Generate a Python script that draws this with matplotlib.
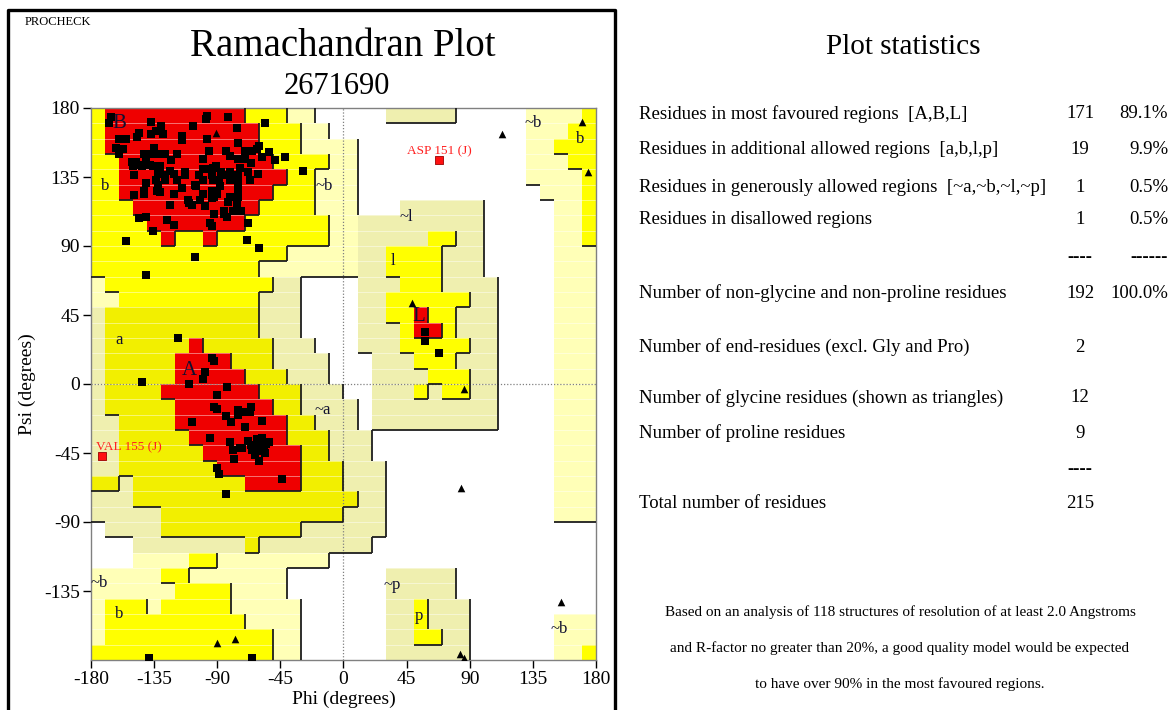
import matplotlib
matplotlib.use("Agg")
import matplotlib.pyplot as plt
import numpy as np
from matplotlib.lines import Line2D
from matplotlib.collections import LineCollection

plt.rcParams['font.family'] = ['Liberation Serif', 'DejaVu Serif']
plt.rcParams['axes.unicode_minus'] = False

# ---------------- data ----------------
# Region map, 10-degree cells; row 0 = psi 170..180, column 0 = phi -180..-170
# R core, Y/y allowed, C/c generous, . disallowed
region_rows = [
    "Y" + "R"*10 + "Y"*3 + "C"*2 + "."*5 + "c"*5 + "."*5 + "C"*4 + "Y",
    "Y" + "R"*11 + "Y"*3 + "C"*2 + "."*14 + "C"*3 + "Y"*2,
    "Y" + "R"*11 + "Y"*3 + "C"*4 + "."*12 + "C"*2 + "Y"*3,
    "YY" + "R"*11 + "Y"*4 + "C"*2 + "."*12 + "C"*3 + "Y"*2,
    "YY" + "R"*12 + "Y"*2 + "C"*3 + "."*12 + "C"*4 + "Y",
    "YY" + "R"*11 + "Y"*3 + "C"*3 + "."*13 + "C"*3 + "Y",
    "YYY" + "R"*9 + "Y"*4 + "C"*3 + "."*3 + "c"*6 + "."*5 + "C"*2 + "Y",
    "Y"*4 + "R"*7 + "Y"*6 + "C"*2 + "c"*9 + "."*5 + "C"*2 + "Y",
    "Y"*5 + "R" + "YY" + "R" + "Y"*8 + "CC" + "c"*5 + "YY" + "cc" + "."*5 + "CC" + "Y",
    "Y"*14 + "C"*5 + "cc" + "Y"*4 + "ccc" + "."*5 + "CCC",
    "Y"*12 + "C"*7 + "cc" + "Y"*4 + "ccc" + "."*5 + "CCC",
    "C" + "Y"*12 + "cc" + "."*4 + "ccc" + "YYY" + "cccc" + "."*4 + "CCC",
    "CC" + "Y"*10 + "ccc" + "."*4 + "cc" + "Y"*6 + "cc" + "."*4 + "CCC",
    "c" + "y"*11 + "ccc" + "."*4 + "cc" + "YY" + "R" + "YY" + "ccc" + "."*4 + "CCC",
    "c" + "y"*11 + "ccc" + "."*4 + "ccc" + "Y" + "RR" + "Y" + "ccc" + "."*4 + "CCC",
    "c" + "y"*6 + "R" + "y"*5 + "ccc" + "..." + "ccc" + "Y"*5 + "cc" + "."*4 + "CCC",
    "c" + "y"*5 + "R"*4 + "yyy" + "cccc" + "..." + "ccc" + "YYY" + "ccc" + "."*4 + "CCC",
    "c" + "y"*5 + "R"*5 + "yyy" + "ccc" + "..." + "cccc" + "YYY" + "cc" + "."*4 + "CCC",
    "c" + "y"*4 + "R"*7 + "yyy" + "ccc" + ".." + "ccc" + "Y" + "c" + "YY" + "cc" + "."*4 + "CCC",
    "c" + "y"*5 + "R"*7 + "yy" + "cccc" + "." + "c"*9 + "."*4 + "CCC",
    "cc" + "y"*4 + "R"*8 + "yy" + "ccc" + "." + "c"*9 + "."*4 + "CCC",
    "cc" + "y"*5 + "R"*7 + "yyy" + "ccc" + "."*13 + "CCC",
    "cc" + "y"*6 + "R"*7 + "yy" + "ccc" + "."*13 + "CCC",
    "cc" + "y"*7 + "R"*6 + "yyy" + "ccc" + "."*12 + "CCC",
    "yy" + "c" + "y"*8 + "R"*4 + "yyy" + "ccc" + "."*12 + "CCC",
    "ccc" + "y"*16 + "cc" + "."*12 + "CCC",
    "c"*5 + "y"*13 + "ccc" + "."*12 + "CCC",
    "." + "c"*4 + "y"*10 + "c"*6 + "."*15,
    "..." + "c"*8 + "y" + "c"*8 + "."*16,
    "..." + "C"*4 + "YY" + "C"*8 + "."*19,
    "C"*5 + "YY" + "C"*7 + "."*7 + "c"*5 + "."*10,
    "C"*6 + "Y"*4 + "C"*4 + "."*7 + "c"*5 + "."*10,
    "C" + "YYY" + "C" + "Y"*5 + "C"*5 + "."*6 + "cc" + "Y" + "ccc" + "."*9,
    "C" + "Y"*10 + "C"*4 + "."*6 + "cc" + "Y" + "ccc" + "."*6 + "CCC",
    "C" + "Y"*12 + "CC" + "."*6 + "cc" + "YY" + "cc" + "."*6 + "CCC",
    "Y"*13 + "CC" + "."*6 + "c"*6 + "."*6 + "CC" + "Y",
]

# non-glycine residues (squares)
sq_phi = [-166, -167, -137, -130, -134, -129, -146, -147, -160, -155, -137, -115, -115, -107, -97, -98,
          -82, -76, -97, -75, -96, -100, -70, -65, -62, -60, -58, -53, -49, -42, -29, -56, -84, -81,
          -75, -70, -66, -61, -68, -67, -74, -81, -75, -75, -81, -87, -86, -91, -93, -98, -100, -103,
          -106, -105, -100, -94, -93, -89, -88, -94, -93, -94, -92, -90, -100, -102, -99, -110, -108,
          -115, -113, -113, -119, -121, -124, -127, -127, -132, -134, -132, -136, -138, -131, -131,
          -127, -123, -132, -135, -138, -142, -141, -146, -144, -148, -151, -150, -149, -141, -142,
          -142, -149, -133, -131, -121, -124, -111, -119, -157, -160, -162, -146, -141, -136, -126,
          -121, -155, -106, -141, -69, -60, -68, -85, -85, -83, -92, -95, -94, -75, -76, -73, -81,
          -75, -82, -79,
          -118, -144, -94, -92, -99, -100, -110, -83, -90, -92, -90, -75, -70, -66, -67, -84, -80,
          -108, -70, -58, -95, -81, -79, -78, -74, -72, -68, -66, -65, -64, -60, -58, -53, -60, -56,
          -60, -90, -89, -44, -84, -62, -61, -57, -55, -63, -75,
          -139, -65, 58, 58, 68]
sq_psi = [174, 170, 171, 168, 165, 163, 164, 161, 160, 160, 163, 162, 159, 168, 175, 173,
          174, 167, 160, 157, 152, 147, 152, 152, 153, 155, 148, 151, 146, 148, 139, 170, 152, 149,
          147, 147, 144, 137, 138, 133, 141, 138, 136, 132, 133, 138, 136, 142, 141, 140, 140, 136,
          130, 129, 133, 136, 133, 133, 129, 126, 123, 121, 122, 124, 124, 120, 116, 118, 117,
          128, 138, 136, 133, 137, 139, 136, 133, 137, 133, 130, 142, 143, 142, 139,
          150, 146, 150, 154, 150, 150, 146, 143, 142, 145, 145, 142, 136, 131, 126,
          124, 123, 126, 125, 124, 117, 120, 150, 153, 150, 154, 108, 109, 100, 107,
          104, 93, 83, 71, 94, 89, 105, 113, 111, 109, 111, 105, 103, 122, 117, 113, 122,
          127, 119, 113,
          30, 1, 17, 15, 8, 3, 0, -2, -7, -15, -16, -17, -18, -15, -18, -21, -25,
          -25, -28, -24, -35, -38, -43, -49, -42, -42, -37, -40, -43, -43, -37, -35, -38, -44, -45,
          -50, -55, -59, -62, -72, -36, -40, -41, -39, -46, -20,
          -179, -179, 34, 28, 20]

# glycine residues (triangles)
gly_phi = [-91, 113, 170, 174, 49, 86, 84, 155, 83, 86, -90, -77]
gly_psi = [164, 163, 171, 138, 53, -3, -68, -142, -176, -179, -169, -166]

# labelled outliers
out_phi = [68, -172]
out_psi = [146, -47]
out_labels = ['ASP 151 (J)', 'VAL 155 (J)']

# region labels
reg_text = ['B', 'b', '~b', 'a', 'A', '~a', 'L', 'l', '~l', '~b', 'b', '~p', 'p', '~b', '~b', 'b']
reg_phi = [-160, -170, -14, -160, -110, -15, 54, 35, 45, 135, 169, 35, 54, 154, -174, -160]
reg_psi = [170, 129, 129, 29, 9, -17, 44, 80, 109, 170, 160, -131, -151, -160, -130, -150]

# statistics panel
stat_labels = ['Residues in most favoured regions  [A,B,L]',
               'Residues in additional allowed regions  [a,b,l,p]',
               'Residues in generously allowed regions  [~a,~b,~l,~p]',
               'Residues in disallowed regions',
               'Number of non-glycine and non-proline residues',
               'Number of end-residues (excl. Gly and Pro)',
               'Number of glycine residues (shown as triangles)',
               'Number of proline residues',
               'Total number of residues']
stat_counts = ['171', '19', '1', '1', '192', '2', '12', '9', '215']
stat_pcts = ['89.1%', '9.9%', '0.5%', '0.5%', '100.0%', '', '', '', '']
note_lines = ['Based on an analysis of 118 structures of resolution of at least 2.0 Angstroms',
              'and R-factor no greater than 20%, a good quality model would be expected',
              'to have over 90% in the most favoured regions.']

# ---------------- drawing ----------------
W, H = 1174, 710
fig = plt.figure(figsize=(W / 100, H / 100), dpi=100)


def fx(px):
    return px / W


def fy(py):
    return 1 - py / H


ax = fig.add_axes([fx(91), fy(660), 505 / W, 552 / H])

colors = {'R': (0.94, 0.0, 0.0), 'Y': (1.0, 1.0, 0.0), 'y': (0.95, 0.94, 0.0),
          'C': (1.0, 1.0, 0.72), 'c': (0.94, 0.94, 0.69), '.': (1.0, 1.0, 1.0)}
img = np.array([[colors[ch] for ch in row] for row in region_rows])
ax.imshow(img, extent=[-180, 180, -180, 180], origin='upper', interpolation='nearest',
          aspect='auto', zorder=0)

for p in range(-170, 180, 10):
    ax.axhline(p, color='white', lw=0.7, alpha=0.45, zorder=1)

lev = {'R': 3, 'Y': 2, 'y': 2, 'C': 1, 'c': 1, '.': 0}
segs = []
n = len(region_rows)
for r in range(n):
    for c in range(n):
        L = lev[region_rows[r][c]]
        top = 180 - 10 * r
        bot = top - 10
        left = -180 + 10 * c
        right = left + 10
        if c < n - 1 and lev[region_rows[r][c + 1]] < L:
            segs.append([(right, top), (right, bot)])
        if r < n - 1 and lev[region_rows[r + 1][c]] < L:
            segs.append([(left, bot), (right, bot)])
ax.add_collection(LineCollection(segs, colors='#1e1e1e', linewidths=1.3, zorder=3))

ax.axhline(0, color='#808080', lw=0.9, ls=(0, (1, 1.5)), zorder=2)
ax.axvline(0, color='#808080', lw=0.9, ls=(0, (1, 1.5)), zorder=2)

ax.scatter(sq_phi, sq_psi, marker='s', s=27, c='black', linewidths=0, zorder=5)
ax.scatter(gly_phi, gly_psi, marker='^', s=30, c='black', linewidths=0, zorder=5)
ax.scatter(out_phi, out_psi, marker='s', s=26, c='#ff1010', edgecolors='#990000',
           linewidths=0.6, zorder=6)
# outlier labels: ASP centred above its point, VAL nudged right of the tick labels
ax.text(out_phi[0], out_psi[0] + 5.5, out_labels[0], color='#ff2020', fontsize=9.5,
        ha='center', va='center', zorder=7)
ax.text(out_phi[1] - 4.5, out_psi[1] + 5.5, out_labels[1], color='#ff2020', fontsize=9.5,
        ha='left', va='center', zorder=7)

for t, p, q in zip(reg_text, reg_phi, reg_psi):
    big = t in ('A', 'B', 'L')
    ax.text(p, q, t, fontsize=15 if big else 12, ha='center', va='center',
            color='#101030', zorder=4)

ax.set_xlim(-180, 180)
ax.set_ylim(-180, 180)
ax.set_xticks(range(-180, 181, 45))
ax.set_yticks(range(-135, 181, 45))
ax.tick_params(direction='out', length=6, width=1.0, labelsize=14, pad=2)
for s in ax.spines.values():
    s.set_color('#808080')
    s.set_linewidth(1.0)
ax.set_xlabel('Phi (degrees)', fontsize=14, labelpad=2)
ax.set_ylabel('Psi (degrees)', fontsize=14, labelpad=6)

# titles
fig.text(fx(25), fy(22), 'PROCHECK', fontsize=9, ha='left', va='center')
fig.text(fx(343), fy(46), 'Ramachandran Plot', fontsize=28, ha='center', va='center')
fig.text(fx(337), fy(87), '2671690', fontsize=22, ha='center', va='center')

# frame of the left panel
fig.add_artist(Line2D([fx(8), fx(8), fx(615), fx(615)], [0, fy(10), fy(10), 0],
                      transform=fig.transFigure, color='black', lw=2.4))

# statistics panel
fig.text(fx(903), fy(47), 'Plot statistics', fontsize=21, ha='center', va='center')
row_y = [114, 150, 187, 220, 293, 347, 398, 433, 504]
for lab, cnt, pct, yy in zip(stat_labels, stat_counts, stat_pcts, row_y):
    fig.text(fx(639), fy(yy), lab, fontsize=13.5, ha='left', va='center')
    fig.text(fx(1080), fy(yy), cnt, fontsize=13.5, ha='center', va='center')
    if pct:
        fig.text(fx(1168), fy(yy), pct, fontsize=13.5, ha='right', va='center')
fig.text(fx(1080), fy(258), '----', fontsize=13.5, ha='center', va='center', weight='bold')
fig.text(fx(1168), fy(258), '------', fontsize=13.5, ha='right', va='center', weight='bold')
fig.text(fx(1080), fy(470), '----', fontsize=13.5, ha='center', va='center', weight='bold')
for t, yy in zip(note_lines, [612, 648, 684]):
    fig.text(fx(900), fy(yy), t, fontsize=11, ha='center', va='center')

fig.savefig('out.png', dpi=100)
